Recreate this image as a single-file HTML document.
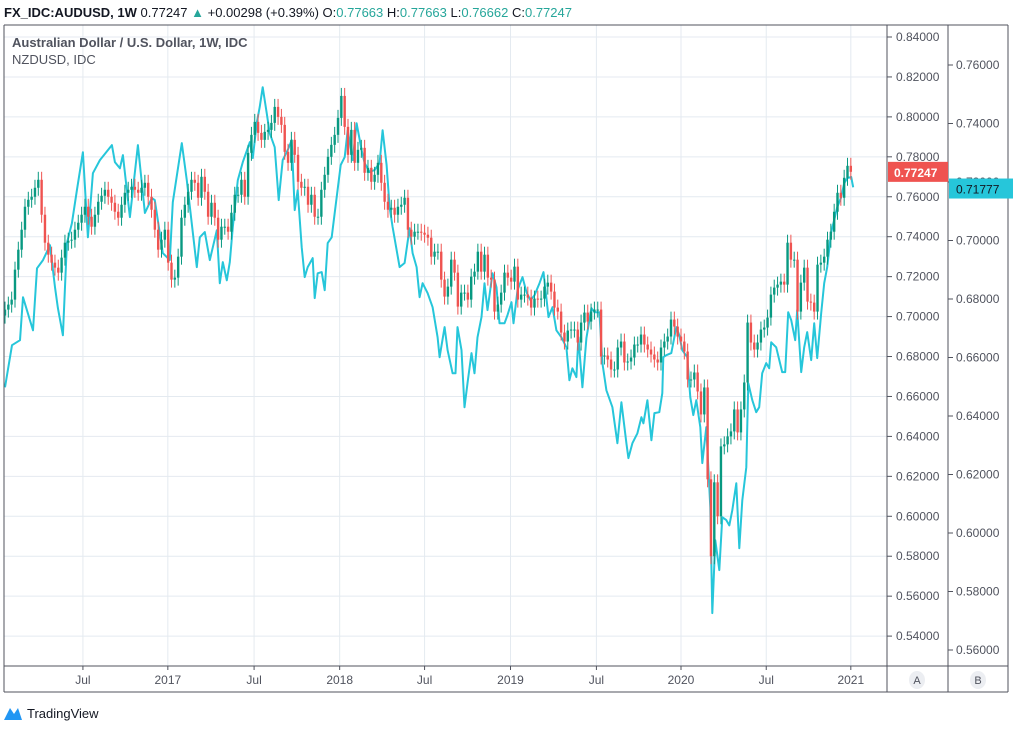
<!DOCTYPE html>
<html><head><meta charset="utf-8">
<style>
html,body{margin:0;padding:0;background:#fff;}
body{width:1013px;height:726px;overflow:hidden;font-family:"Liberation Sans",sans-serif;}
svg text{font-family:"Liberation Sans",sans-serif;}
</style></head>
<body>
<svg id="chart" width="1013" height="726" viewBox="0 0 1013 726" xmlns="http://www.w3.org/2000/svg">
  <g id="grid"></g>
  <g id="nzd"></g>
  <g id="candles"></g>
  <g id="axes"></g>
  <text x="4" y="17" font-size="13" fill="#131722"><tspan font-weight="bold">FX_IDC:AUDUSD, 1W</tspan> 0.77247 <tspan fill="#26a69a">▲</tspan> +0.00298 (+0.39%) O:<tspan fill="#26a69a">0.77663</tspan> H:<tspan fill="#26a69a">0.77663</tspan> L:<tspan fill="#26a69a">0.76662</tspan> C:<tspan fill="#26a69a">0.77247</tspan></text>
  <text x="12" y="47" font-size="13" font-weight="bold" fill="#50535e">Australian Dollar / U.S. Dollar, 1W, IDC</text>
  <text x="12" y="64" font-size="13" fill="#50535e">NZDUSD, IDC</text>
  <g>
    <path d="M4 720 L10 708 L14 714 L18 708 L22 720 Z" fill="#2196f3"/>
    <text x="27" y="718" font-size="13" fill="#131722">TradingView</text>
  </g>
</svg>
<script>
const audClose = [0.7035,0.706,0.7085,0.7235,0.7335,0.7435,0.755,0.7585,0.76,0.7645,0.7685,0.751,0.737,0.731,0.727,0.7245,0.722,0.7295,0.737,0.738,0.7385,0.7435,0.747,0.751,0.755,0.75,0.745,0.751,0.7575,0.7605,0.7635,0.76,0.757,0.7525,0.7495,0.756,0.762,0.7635,0.765,0.7635,0.762,0.7645,0.767,0.76,0.7535,0.7435,0.7335,0.7385,0.7435,0.727,0.7185,0.7195,0.73,0.7495,0.756,0.7625,0.7685,0.767,0.7595,0.77,0.7625,0.75,0.757,0.7495,
0.7385,0.745,0.745,0.7425,0.752,0.761,0.761,0.7685,0.76,0.782,0.791,0.7975,0.792,0.7885,0.7925,0.7935,0.797,0.805,0.8,0.796,0.7825,0.777,0.7885,0.781,0.7675,0.7645,0.765,0.756,0.761,0.75,0.75,0.7635,0.771,0.78,0.786,0.791,0.7995,0.8105,0.795,0.781,0.7935,0.777,0.7835,0.7845,0.772,0.7745,0.7675,0.771,0.777,0.767,0.7575,0.7535,0.7545,0.751,0.755,0.756,0.7595,0.7435,0.74,0.7425,0.7425,0.742,0.741,0.7395,0.73,0.7325,0.7325,0.7185,0.71,0.715,0.7285,0.722,0.705,0.712,0.712,0.7085,0.72,0.7225,0.7325,0.7225,0.731,0.7195,0.7185,0.7025,0.706,0.712,0.722,0.7195,0.7175,0.725,0.7085,0.711,0.711,0.7095,0.7045,0.709,0.7085,0.709,0.715,0.717,0.7125,0.7045,0.7025,0.692,0.6875,0.693,0.6935,0.6935,0.687,0.697,0.702,0.6975,0.7025,0.7035,0.7035,0.68,0.6805,0.6785,0.6735,0.6735,0.6845,0.6875,0.677,0.6775,0.6795,0.686,0.686,0.691,0.686,0.6835,0.681,0.6785,0.677,0.6845,0.6875,0.69,0.6985,0.695,0.69,0.6875,0.6825,0.6685,0.6685,0.672,0.6625,0.651,0.6645,0.6185,0.58,0.617,0.6,0.635,0.636,0.64,0.6425,0.6535,0.642,0.6535,0.667,0.697,0.687,0.6835,0.687,0.6935,0.6945,0.6995,0.711,0.7145,0.716,0.7175,0.716,0.737,0.7285,0.7285,0.7025,0.717,0.7245,0.7075,0.707,0.7025,0.726,0.727,0.73,0.7385,0.7425,0.7525,0.762,0.7595,0.7695,0.7755,0.7725];
const nzdWeek = [0,2.1,4.5,5.4,8.4,9.6,11.4,13.5,15,15.9,17.4,18.6,20.1,21.6,23.4,24.9,26.4,28.5,32.1,33,34.5,35.4,37.5,39.9,42,44.1,45,47.4,49.5,50.4,53.1,54.6,57.6,58.5,60,61.5,63.6,64.5,65.4,66.6,67.5,68.4,69.9,71.4,73.5,74.4,75.6,76.5,77.4,78.6,79.5,81,82.2,83.4,84.9,86.1,87,87.9,89.1,90,90.9,92.4,93,93.9,95.1,96,96.9,98.1,99,100.8,102,102.9,104.4,105.6,107.1,108,109.5,111,112.5,113.4,114.6,115.5,116.4,118.5,120,121.5,122.4,123.6,124.5,125.4,126.9,128.4,129.9,130.5,132,132.9,134.4,135.3,135.9,137.1,138,138.9,140.1,141,141.9,143.1,144,144.9,146.4,147.6,148.5,150,150.9,152.1,152.7,153.9,155.4,156.6,157.8,159,160.5,161.7,163.2,164.4,165.6,167.1,168.6,169.5,170.4,171.6,172.2,173.4,174.6,176.1,177,178.5,179.4,180.6,182.4,183.9,185.1,186.6,187.2,188.4,189.9,191.1,191.7,192.9,194.1,195,196.5,197.4,197.7,198.6,200.1,201.6,202.5,203.4,204.9,205.8,206.7,207.6,208.8,209.4,210.6,211.8,212.4,213.3,214.5,215.4,216.6,217.5,218.4,219.6,220.5,221.4,222.6,223.2,224.4,225.6,226.5,227.4,228.6,229.5,230.1,231.6,233.4,234.3,235.2,236.1,237.3,237.9,239.1,240,240.9,242.1,243,243.9,245.1,246,246.9,248.1,249,249.9,251.1,252,252.9,254.1,254.7];
const nzdValue = [0.6498,0.6642,0.6659,0.6806,0.6693,0.6905,0.6933,0.6984,0.684,0.6769,0.6676,0.6991,0.7059,0.7172,0.7302,0.7011,0.723,0.7275,0.7326,0.7268,0.7247,0.7292,0.708,0.7326,0.7094,0.7145,0.7138,0.6957,0.6933,0.7131,0.7333,0.7206,0.6909,0.7011,0.7029,0.6933,0.7035,0.6854,0.6926,0.6864,0.6926,0.7046,0.7206,0.7268,0.7336,0.7282,0.7401,0.7456,0.7524,0.7436,0.7367,0.7319,0.7138,0.7275,0.7309,0.7343,0.7104,0.7172,0.6977,0.6875,0.6909,0.694,0.6803,0.6888,0.6892,0.683,0.6991,0.7011,0.7094,0.7258,0.7285,0.7377,0.7275,0.7401,0.7309,0.7265,0.7234,0.7241,0.7265,0.7377,0.7258,0.7114,0.7046,0.6909,0.6923,0.7042,0.6957,0.6909,0.6806,0.6854,0.682,0.6772,0.6669,0.6601,0.6704,0.6625,0.6546,0.6546,0.6704,0.6625,0.643,0.6512,0.6615,0.6546,0.6669,0.6738,0.6854,0.6762,0.6888,0.684,0.6717,0.6717,0.6745,0.6789,0.6717,0.683,0.6875,0.6823,0.6796,0.6813,0.6854,0.6892,0.6738,0.6772,0.6693,0.6669,0.6635,0.6522,0.6563,0.6533,0.6669,0.6498,0.6666,0.6769,0.6755,0.6755,0.6581,0.6488,0.643,0.6307,0.6447,0.6307,0.6256,0.6307,0.6341,0.6396,0.6375,0.6454,0.6317,0.641,0.6413,0.6478,0.6601,0.6608,0.6615,0.6704,0.6676,0.6625,0.6601,0.6464,0.6403,0.6454,0.6362,0.6239,0.6362,0.6088,0.5726,0.5975,0.5873,0.6054,0.6044,0.6026,0.6078,0.617,0.5948,0.6112,0.6225,0.6512,0.6454,0.6413,0.643,0.6546,0.6581,0.6563,0.6652,0.6635,0.655,0.655,0.6755,0.6728,0.6659,0.6762,0.655,0.6635,0.6687,0.6591,0.6717,0.6598,0.6752,0.6854,0.6909,0.7029,0.707,0.7114,0.7148,0.7196,0.7213,0.7217,0.7182];
const ticksA = [0.84,0.82,0.80,0.78,0.76,0.74,0.72,0.70,0.68,0.66,0.64,0.62,0.60,0.58,0.56,0.54];
const ticksB = [0.76,0.74,0.72,0.70,0.68,0.66,0.64,0.62,0.60,0.58,0.56];
const dateLabels = ["Jul","2017","Jul","2018","Jul","2019","Jul","2020","Jul","2021"];
const dateWeeks = [23.4,48.9,74.8,100.5,126,151.8,177.6,203,228.6,254];
const lastA = 0.77247, lastB = 0.71777;

const NS = "http://www.w3.org/2000/svg";
const xOf = w => 5 + w * 3.33;
const yA = v => 37 + (0.84 - v) * 1997;
const yB = v => 65 + (0.76 - v) * 2925;
function mk(tag, attrs, parent) {
  const e = document.createElementNS(NS, tag);
  for (const k in attrs) e.setAttribute(k, attrs[k]);
  parent.appendChild(e);
  return e;
}
const grid = document.getElementById('grid');
const axes = document.getElementById('axes');
const cg = document.getElementById('candles');
const ng = document.getElementById('nzd');

// grid
ticksA.forEach(v => {
  const l = mk('line', {x1:4, x2:887, y1:yA(v), y2:yA(v), stroke:'#e4eaf0', 'stroke-width':1}, grid);
  
  
});
dateWeeks.forEach(w => {
  const l = mk('line', {x1:xOf(w), x2:xOf(w), y1:25, y2:666, stroke:'#e4eaf0', 'stroke-width':1}, grid);
  
  
});

// NZD line
let d = '';
nzdWeek.forEach((w, i) => { d += (i ? 'L' : 'M') + xOf(w).toFixed(1) + ' ' + yB(nzdValue[i]).toFixed(1); });
const nl = mk('path', {d: d, fill:'none', stroke:'#26c6da', 'stroke-width':2, 'stroke-linejoin':'round'}, ng);



// candles
audClose.forEach((c, i) => {
  const o = i ? audClose[i - 1] : c - 0.003;
  const up = c >= o;
  const col = up ? '#089981' : '#ef5350';
  const x = xOf(i);
  const hi = Math.max(o, c) + 0.004, lo = Math.min(o, c) - 0.004;
  const g = mk('g', {}, cg);
  
  
  mk('line', {x1:x, x2:x, y1:yA(hi), y2:yA(lo), stroke:col, 'stroke-width':1}, g);
  const top = yA(Math.max(o, c)), bot = yA(Math.min(o, c));
  mk('rect', {x:x - 1.2, y:top, width:2.4, height:Math.max(1, bot - top), fill:col}, g);
});

// frame
[[4,25,1008,25],[4,25,4,692],[4,666,1008,666],[4,692,1008,692],[887,25,887,692],[948,25,948,692],[1008,25,1008,692]].forEach(p => {
  const l = mk('line', {x1:p[0], y1:p[1], x2:p[2], y2:p[3], stroke:'#50535e', 'stroke-width':1}, axes);
  
  
});
ticksA.forEach(v => {
  mk('line', {x1:887, x2:892, y1:yA(v), y2:yA(v), stroke:'#50535e'}, axes);
  const t = mk('text', {x:896, y:yA(v) + 4, 'font-size':12, fill:'#50535e'}, axes);
  t.textContent = v.toFixed(5);
  
  
});
ticksB.forEach(v => {
  mk('line', {x1:948, x2:953, y1:yB(v), y2:yB(v), stroke:'#50535e'}, axes);
  const t = mk('text', {x:956, y:yB(v) + 4, 'font-size':12, fill:'#50535e'}, axes);
  t.textContent = v.toFixed(5);
  
  
});
dateLabels.forEach((s, i) => {
  const x = xOf(dateWeeks[i]);
  mk('line', {x1:x, x2:x, y1:666, y2:670, stroke:'#50535e'}, axes);
  const t = mk('text', {x:x, y:684, 'font-size':12, fill:'#50535e', 'text-anchor':'middle'}, axes);
  t.textContent = s;
  
  
});
// A / B buttons
[['A',917],['B',978]].forEach(p => {
  const g = mk('g', {}, axes);
  
  
  mk('ellipse', {cx:p[1], cy:680, rx:8, ry:9, fill:'#eceef2'}, g);
  const t = mk('text', {x:p[1], y:684, 'font-size':11, fill:'#50535e', 'text-anchor':'middle'}, g);
  t.textContent = p[0];
});
// last-price labels
const la = mk('g', {}, axes);


mk('rect', {x:888, y:yA(lastA) - 10, width:60, height:20, fill:'#ef5350'}, la);
const lat = mk('text', {x:894, y:yA(lastA) + 5, 'font-size':12, 'font-weight':'bold', fill:'#fff'}, la);
lat.textContent = lastA.toFixed(5);
const lb = mk('g', {}, axes);


mk('rect', {x:949, y:yB(lastB) - 10, width:64, height:20, fill:'#26c6da'}, lb);
const lbt = mk('text', {x:956, y:yB(lastB) + 5, 'font-size':12, fill:'#131722'}, lb);
lbt.textContent = lastB.toFixed(5);
</script>
</body></html>
